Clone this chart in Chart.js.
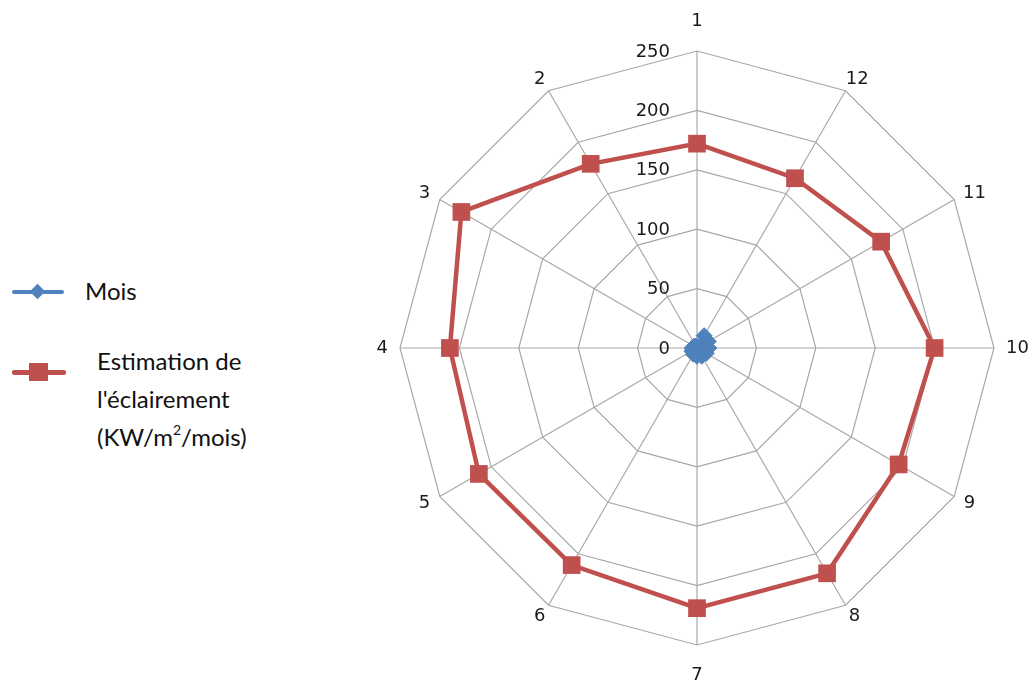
<!DOCTYPE html>
<html>
<head>
<meta charset="utf-8">
<script src="https://cdn.jsdelivr.net/npm/chart.js@4/dist/chart.umd.min.js"></script>
<style>
  html, body { margin: 0; padding: 0; background: #fff; }
  #wrap { position: relative; width: 1034px; height: 682px; overflow: hidden; }
  #chartBox { position: absolute; left: 360px; top: 11px; width: 674px; height: 674px; }
  .legend { position: absolute; left: 0; top: 0; font-family: Lato, "Open Sans", sans-serif; font-size: 24px; color: #111; }
  .line { position: absolute; height: 4px; border-radius: 2px; }
  .mark { position: absolute; }
  .txt { position: absolute; line-height: 38px; white-space: nowrap; }
  .txt sup { font-size: 14px; line-height: 0; position: relative; top: -2px; }
</style>
</head>
<body>
<div id="wrap">
  <div class="legend">
    <div class="line" style="left:12px; top:290px; width:52px; background:#4f81bd;"></div>
    <div class="mark" style="left:32px; top:286px; width:11px; height:11px; background:#4f81bd; transform:rotate(45deg);"></div>
    <div class="txt" style="left:85px; top:272px;">Mois</div>

    <div class="line" style="left:12px; top:370px; width:54px; height:5px; background:#c0504d;"></div>
    <div class="mark" style="left:29px; top:363px; width:19px; height:18px; background:#c0504d;"></div>
    <div class="txt" style="left:97px; top:342px;">Estimation de<br>l'éclairement<br>(KW/m<sup>2</sup>/mois)</div>
  </div>
  <div id="chartBox"><canvas id="radar"></canvas></div>
</div>
<script>
// months placed clockwise from the top: 1, 12, 11 ... 2
const monthLabels = ['1', '12', '11', '10', '9', '8', '7', '6', '5', '4', '3', '2'];
const moisValues = [1, 12, 11, 10, 9, 8, 7, 6, 5, 4, 3, 2];
const eclairementValues = [172, 165, 179, 200, 196, 219, 219, 211, 212, 208, 229, 179];
const tickValues = [0, 50, 100, 150, 200, 250];

const gridGray = '#a8a8a8';
const textColor = '#1a1a1a';
const labelFont = '18px "DejaVu Sans", sans-serif';

// value labels to the left of the vertical axis, and month labels
// set just outside each outer vertex
const radarText = {
  id: 'radarText',
  beforeDatasetsDraw(chart) {
    const r = chart.scales.r;
    const ctx = chart.ctx;
    ctx.save();
    ctx.font = labelFont;
    ctx.fillStyle = textColor;
    ctx.textAlign = 'right';
    ctx.textBaseline = 'middle';
    tickValues.forEach(v => {
      const d = r.getDistanceFromCenterForValue(v);
      ctx.fillText(String(v), r.xCenter - 27, r.yCenter - d + 1);
    });

    ctx.textAlign = 'center';
    const R = r.drawingArea;
    monthLabels.forEach((lbl, i) => {
      const p = r.getPointPosition(i, R);
      const ux = (p.x - r.xCenter) / R;
      const uy = (p.y - r.yCenter) / R;
      const w = ctx.measureText(lbl).width;
      const ox = ux * (12 + w / 2);
      const oy = uy * (Math.abs(uy) > 0.99 ? 30 : 13);
      ctx.fillText(lbl, p.x + ox, p.y + oy);
    });
    ctx.restore();
  }
};

new Chart(document.getElementById('radar'), {
  type: 'radar',
  data: {
    labels: monthLabels,
    datasets: [
      {
        label: 'Mois',
        data: moisValues,
        borderColor: '#4f81bd',
        backgroundColor: '#4f81bd',
        borderWidth: 6,
        fill: false,
        pointStyle: 'rectRot',
        pointRadius: 8,
        pointBorderWidth: 1,
        pointBackgroundColor: '#4f81bd',
        pointBorderColor: '#4f81bd'
      },
      {
        label: "Estimation de l'éclairement (KW/m²/mois)",
        data: eclairementValues,
        borderColor: '#c0504d',
        backgroundColor: '#c0504d',
        borderWidth: 4.5,
        fill: false,
        pointStyle: 'rect',
        pointRadius: 12.5,
        pointBorderWidth: 0,
        pointBackgroundColor: '#c0504d',
        pointBorderColor: '#c0504d'
      }
    ]
  },
  options: {
    responsive: true,
    maintainAspectRatio: false,
    animation: false,
    layout: { padding: 40 },
    plugins: {
      legend: { display: false },
      tooltip: { enabled: false }
    },
    elements: { line: { tension: 0 } },
    scales: {
      r: {
        min: 0,
        max: 250,
        ticks: { stepSize: 50, display: false },
        grid: { color: gridGray, lineWidth: 1.2 },
        angleLines: { color: gridGray, lineWidth: 1.2 },
        pointLabels: { display: false }
      }
    }
  },
  plugins: [radarText]
});
</script>
</body>
</html>
